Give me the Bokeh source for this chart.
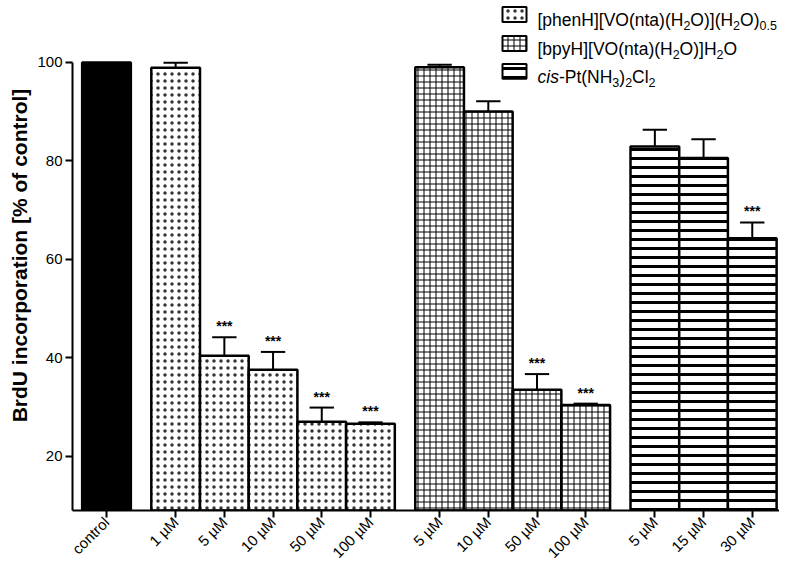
import math
from bokeh.plotting import figure
from bokeh.models import Range1d, FixedTicker, Label, BoxAnnotation, ColumnDataSource
from bokeh.embed import file_html
from bokeh.resources import INLINE
from bokeh.core.properties import value

# ---------------- data ----------------
labels = ["control", "1 µM", "5 µM", "10 µM", "50 µM", "100 µM",
          "5 µM", "10 µM", "50 µM", "100 µM",
          "5 µM", "15 µM", "30 µM"]
groups = ["control"] + ["phen"] * 5 + ["bpy"] * 4 + ["cis"] * 3
values = [100.0, 98.9, 40.4, 37.6, 27.0, 26.6, 99.0, 90.0, 33.5, 30.4, 82.9, 80.6, 64.3]
errors = [0.0, 1.0, 3.8, 3.6, 2.9, 0.3, 0.5, 2.1, 3.2, 0.3, 3.4, 3.8, 3.2]
signif = ["", "", "***", "***", "***", "***", "", "", "***", "***", "", "", "***"]
y_ticks = [20, 40, 60, 80, 100]

FONT = "Liberation Sans"

# positions: consecutive bars touch, a gap separates groups
GAP = 0.42
xs = []
pos = -1.0
prev = None
for g in groups:
    if prev is not None and g != prev:
        pos += GAP
    prev = g
    pos += 1.0
    xs.append(pos)

# layout (canvas pixels)
W_FIG, H_FIG = 779, 570
LEFT, BOTTOM = 72, 59
FRAME_W = W_FIG - LEFT
FRAME_H = H_FIG - BOTTOM
PX_X = 48.7
X0 = -(106 - LEFT) / PX_X
X1 = X0 + FRAME_W / PX_X
Y0 = 9.0
Y100_PX = 62.0
Y1 = (100 - Y0 * Y100_PX / FRAME_H) / (1 - Y100_PX / FRAME_H)

p = figure(width=W_FIG, height=H_FIG, output_backend="svg", toolbar_location=None,
           x_range=Range1d(X0, X1), y_range=Range1d(Y0, Y1),
           min_border_left=LEFT, min_border_right=0, min_border_top=0, min_border_bottom=BOTTOM)
p.outline_line_color = None
p.xgrid.visible = False
p.ygrid.visible = False
p.background_fill_color = "white"
p.border_fill_color = "white"

styles = {
    "control": dict(fill_color="black"),
    "phen": dict(fill_color="white", hatch_pattern="dot", hatch_scale=7, hatch_weight=0.8, hatch_color="#333333"),
    "bpy": dict(fill_color="white", hatch_pattern="cross", hatch_scale=6, hatch_weight=1.0, hatch_color="black"),
    "cis": dict(fill_color="white", hatch_pattern="horizontal_line", hatch_scale=9, hatch_weight=3, hatch_color="black"),
}

for g in ["control", "phen", "bpy", "cis"]:
    idx = [i for i, gg in enumerate(groups) if gg == g]
    src = ColumnDataSource(dict(x=[xs[i] for i in idx], top=[values[i] for i in idx]))
    p.vbar(x="x", top="top", bottom=0, width=1.0, source=src,
           line_color="black", line_width=2.5, **styles[g])

# error bars (upper only)
eidx = [i for i in range(len(values)) if errors[i] > 0]
ex = [xs[i] for i in eidx]
ey0 = [values[i] for i in eidx]
ey1 = [values[i] + errors[i] for i in eidx]
p.segment(x0=ex, y0=ey0, x1=ex, y1=ey1, line_color="black", line_width=2)
p.segment(x0=[x - 0.25 for x in ex], y0=ey1, x1=[x + 0.25 for x in ex], y1=ey1,
          line_color="black", line_width=2)

# significance stars
sidx = [i for i in range(len(values)) if signif[i]]
p.text(x=[xs[i] for i in sidx], y=[values[i] + errors[i] for i in sidx],
       text=[signif[i] for i in sidx], text_align="center", text_baseline="bottom",
       y_offset=-3, text_font=value(FONT), text_font_size="14px", text_font_style="bold",
       text_color="black")

# axes
p.yaxis.ticker = FixedTicker(ticks=y_ticks)
p.yaxis.bounds = (Y0, 100)
p.xaxis.ticker = FixedTicker(ticks=xs)
p.xaxis.major_label_overrides = {x: lab for x, lab in zip(xs, labels)}
p.xaxis.major_label_orientation = math.pi / 4
for ax in (p.xaxis, p.yaxis):
    ax.axis_line_width = 2
    ax.axis_line_color = "black"
    ax.major_tick_line_width = 2
    ax.major_tick_line_color = "black"
    ax.major_tick_in = 0
    ax.major_tick_out = 7
    ax.minor_tick_line_color = None
    ax.major_label_text_font = FONT
    ax.major_label_text_color = "black"
p.xaxis.major_label_text_font_size = "15px"
p.yaxis.major_label_text_font_size = "15px"
p.yaxis.major_label_standoff = 3
p.xaxis.major_label_standoff = 2
p.yaxis.axis_label = "BrdU incorporation [% of control]"
p.yaxis.axis_label_text_font = FONT
p.yaxis.axis_label_text_font_size = "21px"
p.yaxis.axis_label_text_font_style = "bold"
p.yaxis.axis_label_text_color = "black"
p.yaxis.axis_label_standoff = 3

# ---------------- legend (manual, with subscripts) ----------------


def xd(px):
    return X0 + (px - LEFT) / PX_X


def yd(py):
    return Y1 - py * (Y1 - Y0) / FRAME_H


CW = {'[': 278, ']': 278, '(': 333, ')': 333, 'p': 556, 'h': 556, 'e': 556, 'n': 556,
      'H': 722, 'V': 667, 'O': 778, 't': 278, 'a': 556, 'b': 556, 'y': 500, 'P': 667,
      'N': 722, 'C': 722, 'l': 222, '-': 333, '.': 278, 'c': 500, 'i': 222, 's': 500,
      '0': 556, '1': 556, '2': 556, '3': 556, '5': 556}
MAIN, SUB = 17.5, 12.5


def tw(s, size):
    return sum(CW.get(c, 556) for c in s) * size / 1000.0


def rich(px, py, segs):
    for txt, kind in segs:
        size = SUB if kind == "sub" else MAIN
        dy = 5 if kind == "sub" else 0
        p.add_layout(Label(x=xd(px), y=yd(py + dy), text=txt,
                           text_font=FONT, text_font_size=f"{size}px",
                           text_font_style="italic" if kind == "it" else "normal",
                           text_baseline="alphabetic", text_align="left", text_color="black"))
        px += tw(txt, size)


legend_rows = [
    ("phen", [("[phenH][VO(nta)(H", "n"), ("2", "sub"), ("O)](H", "n"), ("2", "sub"), ("O)", "n"), ("0.5", "sub")]),
    ("bpy", [("[bpyH][VO(nta)(H", "n"), ("2", "sub"), ("O)]H", "n"), ("2", "sub"), ("O", "n")]),
    ("cis", [("cis", "it"), ("-Pt(NH", "n"), ("3", "sub"), (")", "n"), ("2", "sub"), ("Cl", "n"), ("2", "sub")]),
]
row_y = [14, 43, 71]
for (g, segs), cy in zip(legend_rows, row_y):
    st = styles[g]
    p.add_layout(BoxAnnotation(left=xd(502), right=xd(526), top=yd(cy - 7.5), bottom=yd(cy + 7.5),
                               fill_color="white", fill_alpha=1.0,
                               line_color="black", line_width=2, line_alpha=1.0,
                               hatch_pattern=st["hatch_pattern"], hatch_scale=st["hatch_scale"],
                               hatch_weight=st["hatch_weight"], hatch_color=st["hatch_color"]))
    rich(537, cy + 6, segs)

open("out.html", "w").write(file_html(p, INLINE))
